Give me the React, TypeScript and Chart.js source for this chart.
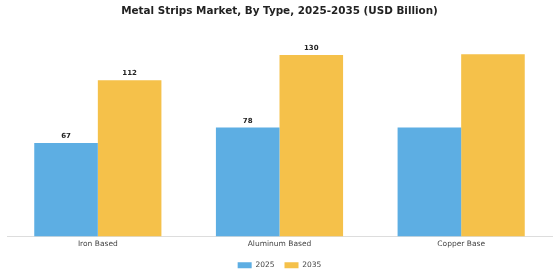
import React, { useEffect, useRef } from "react";
import { Chart, registerables } from "chart.js";

Chart.register(...registerables);

const categories = ["Iron Based", "Aluminum Based", "Copper Base"];
const series2025 = [67, 78, 78];
const series2035 = [112, 130, 130.5];
const labels2025 = ["67", "78", ""];
const labels2035 = ["112", "130", ""];
const titleText = "Metal Strips Market, By Type, 2025-2035 (USD Billion)";

const valueLabels = {
  id: "valueLabels",
  afterDatasetsDraw(chart: any) {
    const ctx = chart.ctx;
    const lists = [labels2025, labels2035];
    ctx.save();
    ctx.font = "bold 7px 'DejaVu Sans', sans-serif";
    ctx.fillStyle = "#222";
    ctx.textAlign = "center";
    ctx.textBaseline = "bottom";
    chart.data.datasets.forEach((ds: any, di: number) => {
      const meta = chart.getDatasetMeta(di);
      meta.data.forEach((bar: any, i: number) => {
        const t = lists[di][i];
        if (t) ctx.fillText(t, bar.x, bar.y - 3);
      });
    });
    ctx.restore();
  },
};

export default function App() {
  const ref = useRef<HTMLCanvasElement>(null);
  useEffect(() => {
    if (!ref.current) return;
    const chart = new Chart(ref.current, {
      type: "bar",
      data: {
        labels: categories,
        datasets: [
          { label: "2025", data: series2025, backgroundColor: "#5DAEE3", categoryPercentage: 0.7, barPercentage: 1.0 },
          { label: "2035", data: series2035, backgroundColor: "#F5C14A", categoryPercentage: 0.7, barPercentage: 1.0 },
        ],
      },
      options: {
        responsive: false,
        animation: false,
        layout: { padding: { left: 7, right: 8, top: 0, bottom: 1 } },
        plugins: {
          title: {
            display: true,
            text: titleText,
            font: { family: "'DejaVu Sans', sans-serif", size: 10.4, weight: "bold" },
            color: "#222",
            padding: { top: 5, bottom: 18 },
          },
          legend: {
            position: "bottom",
            labels: {
              font: { family: "'DejaVu Sans', sans-serif", size: 7.5 },
              color: "#444",
              boxWidth: 14,
              boxHeight: 6,
              padding: 10,
            },
          },
          tooltip: { enabled: false },
        },
        scales: {
          x: {
            grid: { display: false, drawTicks: false },
            border: { display: true, color: "#ddd" },
            ticks: { font: { family: "'DejaVu Sans', sans-serif", size: 7.5 }, color: "#444", padding: 3 },
          },
          y: { display: false, min: 0, max: 144 },
        },
      },
      plugins: [valueLabels],
    });
    return () => chart.destroy();
  }, []);
  return (
    <div style={{ position: "fixed", left: 0, top: 0, width: 560, height: 280, background: "#fff" }}>
      <canvas ref={ref} width={560} height={280} />
    </div>
  );
}
